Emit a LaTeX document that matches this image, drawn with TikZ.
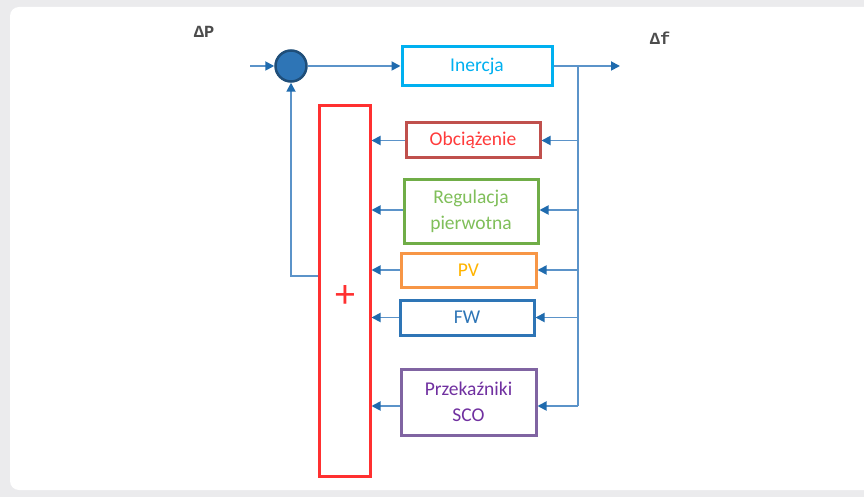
\documentclass[tikz,border=0pt]{standalone}
\usepackage{fontspec}
\setmainfont{Carlito}
\newfontfamily\monof{Liberation Mono}
\usetikzlibrary{arrows.meta}
\definecolor{bggray}{HTML}{EBEBED}
\definecolor{lineblue}{HTML}{5B93C9}
\definecolor{tipblue}{HTML}{1F6BAE}
\definecolor{circfill}{HTML}{2E75B6}
\definecolor{circdraw}{HTML}{1F4E79}
\definecolor{cyanc}{HTML}{00B0F0}
\definecolor{obcdraw}{HTML}{C0504D}
\definecolor{obctext}{HTML}{FF3B3B}
\definecolor{greenc}{HTML}{70AD47}
\definecolor{greent}{HTML}{80BF5A}
\definecolor{orangec}{HTML}{F79646}
\definecolor{pvtext}{HTML}{FFB400}
\definecolor{fwc}{HTML}{2E75B6}
\definecolor{purpd}{HTML}{8064A2}
\definecolor{purpt}{HTML}{7030A0}
\definecolor{redc}{HTML}{FF3030}
\begin{document}
\begin{tikzpicture}[x=1pt,y=-1pt,
  blk/.style={draw, line width=3pt, minimum width=134pt, align=center, font=\fontsize{19.5}{26}\selectfont, inner sep=0pt},
  conn/.style={draw=lineblue, line width=1.8pt, -{Triangle[length=9pt,width=9pt,color=tipblue]}},
  plain/.style={draw=lineblue, line width=1.8pt}]
\useasboundingbox (0,0) rectangle (864,497);
\fill[bggray] (0,0) rectangle (864,497);
\fill[white, rounded corners=9pt] (10,7) rectangle (890,490);

\node[circle, fill=circfill, draw=circdraw, line width=2.5pt, minimum size=31pt, inner sep=0pt] (sum) at (291,66) {};
\node[blk, draw=cyanc, text=cyanc, minimum width=150pt, minimum height=39pt] (iner) at (477,66) {Inercja};
\node[blk, draw=obcdraw, text=obctext, minimum height=35pt] (obc) at (473,140.5) {Obciążenie};
\node[blk, draw=greenc, text=greent, minimum height=63pt] (reg) at (471,211.5) {Regulacja\\pierwotna};
\node[blk, draw=orangec, text=pvtext, minimum width=135pt, minimum height=34pt] (pv) at (468.5,270) {PV};
\node[blk, draw=fwc, text=fwc, minimum height=35pt] (fw) at (467,317.5) {FW};
\node[blk, draw=purpd, text=purpt, minimum width=135pt, minimum height=66pt] (sco) at (468.5,402) {Przekaźniki\\SCO};
\node[draw=redc, line width=3pt, minimum width=51pt, minimum height=370pt, inner sep=0pt] (add) at (344.5,291) {};
\node[text=redc, font=\fontsize{40}{40}\selectfont] (plus) at (345,297) {+};

\node[font=\monof\bfseries\fontsize{17}{17}\selectfont, text=black!70] (dp) at (204,32) {ΔP};
\node[font=\monof\bfseries\fontsize{17}{17}\selectfont, text=black!70] (df) at (660,38) {Δf};

\coordinate (in) at (250,66);
\coordinate (out) at (620,66);
\coordinate (bus) at (578,66);
\coordinate (busb) at (578,406);
\coordinate (fby) at (0,276);

\draw[conn] (in) -- (sum.west);
\draw[conn] (sum.east) -- (iner.west);
\draw[conn] (iner.east) -- (out);
\draw[plain] (bus) -- (busb);
\foreach \b/\yy in {obc/140.5, reg/210, pv/270, fw/317.5, sco/406}{
  \draw[conn] (578,\yy) -- (\b.east |- 0,\yy);
  \draw[conn] (\b.west |- 0,\yy) -- (add.east |- 0,\yy);
}
\draw[conn] (add.west |- fby) -| (sum.south);
\end{tikzpicture}
\end{document}
